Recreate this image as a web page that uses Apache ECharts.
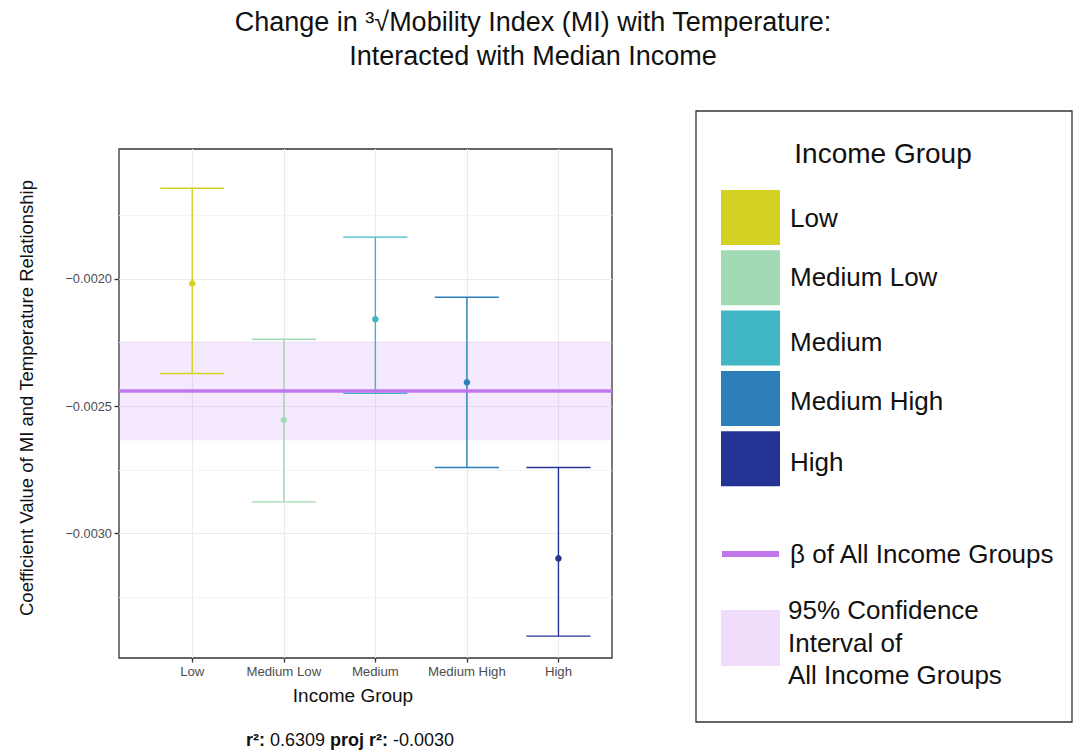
<!DOCTYPE html>
<html><head><meta charset="utf-8">
<script src="https://cdn.jsdelivr.net/npm/echarts@6/dist/echarts.min.js"></script>
<style>html,body{margin:0;padding:0;background:#fff}#c{width:1075px;height:750px}</style>
</head><body><div id="c"></div>
<script>
// ---- data ----
const categories = ['Low', 'Medium Low', 'Medium', 'Medium High', 'High'];
const estimates = [-0.002018, -0.002554, -0.002158, -0.002406, -0.003097];
const lowerCI = [-0.002371, -0.002875, -0.002449, -0.002740, -0.003402];
const upperCI = [-0.001644, -0.002237, -0.001836, -0.002072, -0.002740];
const groupColors = ['#D3D121', '#A1DAB4', '#41B6C4', '#2C7FB8', '#253494'];
const overallBeta = -0.002440;
const overallCI = [-0.002633, -0.002246];
const yTicks = [-0.0030, -0.0025, -0.0020];
const yMinorTicks = [-0.00325, -0.00275, -0.00225, -0.00175];
const yLimits = [-0.003488, -0.001490];
const xLimits = [-0.80, 4.585];
const titleLines = ['Change in \u00B3\u221AMobility Index (MI) with Temperature:', 'Interacted with Median Income'];
const legendTitle = 'Income Group';
const betaLabel = '\u03B2 of All Income Groups';
const ciLabelLines = ['95% Confidence', 'Interval of', 'All Income Groups'];
const fitStats = { r2: '0.6309', projR2: '-0.0030' };

// ---- chart ----
const FONT = '"Liberation Sans", Arial, sans-serif';
const chart = echarts.init(document.getElementById('c'), null, { renderer: 'svg' });
const capHalf = 0.35;
const catIdx = categories.map((_, i) => i);

const graphics = [];
titleLines.forEach((t, k) => graphics.push({
  type: 'text', x: 533, y: 22 + k * 34,
  style: { text: t, font: '27px ' + FONT, fill: '#111', align: 'center', verticalAlign: 'middle' }
}));
graphics.push({ type: 'text', x: 26, y: 398, rotation: Math.PI / 2,
  style: { text: 'Coefficient Value of MI and Temperature Relationship', font: '18.5px ' + FONT, fill: '#111', align: 'center', verticalAlign: 'middle' } });
graphics.push({ type: 'text', x: 353, y: 695,
  style: { text: 'Income Group', font: '19px ' + FONT, fill: '#111', align: 'center', verticalAlign: 'middle' } });
graphics.push({ type: 'text', x: 350, y: 740,
  style: { text: '{b|r\u00B2:} ' + fitStats.r2 + ' {b|proj r\u00B2:} ' + fitStats.projR2,
    font: '18px ' + FONT, fill: '#111', align: 'center', verticalAlign: 'middle',
    rich: { b: { fontWeight: 'bold', fontSize: 18, fontFamily: FONT, fill: '#111' } } } });
// legend box
graphics.push({ type: 'rect', shape: { x: 696, y: 111, width: 376, height: 611 },
  style: { fill: '#fff', stroke: '#333', lineWidth: 1.3 } });
graphics.push({ type: 'text', x: 883, y: 153,
  style: { text: legendTitle, font: '28px ' + FONT, fill: '#111', align: 'center', verticalAlign: 'middle' } });
const labelY = [218, 277, 342, 401, 462];
categories.forEach((c, i) => {
  graphics.push({ type: 'rect', shape: { x: 721, y: 190 + i * 60.3, width: 59, height: 55 }, style: { fill: groupColors[i] } });
  graphics.push({ type: 'text', x: 790, y: labelY[i],
    style: { text: c, font: '26px ' + FONT, fill: '#111', align: 'left', verticalAlign: 'middle' } });
});
graphics.push({ type: 'rect', shape: { x: 722, y: 551, width: 57, height: 6 }, style: { fill: '#C077EE' } });
graphics.push({ type: 'text', x: 790, y: 554,
  style: { text: betaLabel, font: '26px ' + FONT, fill: '#111', align: 'left', verticalAlign: 'middle' } });
graphics.push({ type: 'rect', shape: { x: 721, y: 610, width: 59, height: 56 }, style: { fill: '#EFDDFB' } });
ciLabelLines.forEach((t, k) => graphics.push({ type: 'text', x: 788, y: 610 + k * 32.5,
  style: { text: t, font: '26px ' + FONT, fill: '#111', align: 'left', verticalAlign: 'middle' } }));

const option = {
  animation: false,
  backgroundColor: '#fff',
  grid: { left: 119, top: 149, right: 1075 - 612, bottom: 750 - 658, show: true,
    borderColor: '#333', borderWidth: 1.3, backgroundColor: 'transparent' },
  xAxis: {
    type: 'value', min: xLimits[0], max: xLimits[1], position: 'bottom',
    axisLine: { show: false, onZero: false },
    axisTick: { show: true, inside: false, customValues: catIdx, length: 4.5, lineStyle: { color: '#333', width: 1.3 } },
    axisLabel: { customValues: catIdx, formatter: v => categories[Math.round(v)], margin: 7,
      fontSize: 13.2, fontFamily: FONT, color: '#4D4D4D' },
    splitLine: { show: true, lineStyle: { color: '#EBEBEB', width: 1.1 } }
  },
  yAxis: [{
    type: 'value', min: yLimits[0], max: yLimits[1], position: 'left',
    axisLine: { show: false, onZero: false },
    axisTick: { show: true, inside: false, customValues: yTicks, length: 4.5, lineStyle: { color: '#333', width: 1.3 } },
    axisLabel: { customValues: yTicks, margin: 7, fontSize: 12.8, fontFamily: FONT, color: '#4D4D4D',
      formatter: v => (v < 0 ? '\u2212' : '') + Math.abs(v).toFixed(4) },
    splitLine: { show: true, lineStyle: { color: '#EBEBEB', width: 1.1 } }
  }, {
    type: 'value', min: yLimits[0], max: yLimits[1], position: 'right',
    axisLine: { show: false, onZero: false },
    axisTick: { show: false, customValues: yMinorTicks },
    axisLabel: { show: false, customValues: yMinorTicks },
    splitLine: { show: true, lineStyle: { color: '#F2F2F2', width: 0.8 } }
  }],
  graphic: graphics,
  series: [{
    type: 'custom', z: 2,
    data: catIdx.map(i => [i, lowerCI[i], upperCI[i]]),
    encode: { x: 0, y: [1, 2] },
    renderItem: (params, api) => {
      const i = api.value(0), lo = api.value(1), hi = api.value(2);
      const st = () => ({ stroke: groupColors[i], lineWidth: 1.4, fill: null });
      const a = api.coord([i, hi]), b = api.coord([i, lo]);
      const l1 = api.coord([i - capHalf, hi]), r1 = api.coord([i + capHalf, hi]);
      const l2 = api.coord([i - capHalf, lo]), r2 = api.coord([i + capHalf, lo]);
      return { type: 'group', children: [
        { type: 'line', shape: { x1: a[0], y1: a[1], x2: b[0], y2: b[1] }, style: st() },
        { type: 'line', shape: { x1: l1[0], y1: l1[1], x2: r1[0], y2: r1[1] }, style: st() },
        { type: 'line', shape: { x1: l2[0], y1: l2[1], x2: r2[0], y2: r2[1] }, style: st() }
      ] };
    },
    markArea: { silent: true, itemStyle: { color: 'rgba(190,120,240,0.16)' },
      data: [[{ yAxis: overallCI[0] }, { yAxis: overallCI[1] }]] }
  }, {
    type: 'line', z: 3, silent: true, showSymbol: false, symbol: 'none',
    lineStyle: { color: '#C077EE', width: 3.5 },
    data: [[xLimits[0], overallBeta], [xLimits[1], overallBeta]]
  }, {
    type: 'scatter', z: 4, symbolSize: 6.5,
    itemStyle: { opacity: 1 },
    data: catIdx.map(i => ({ value: [i, estimates[i]], itemStyle: { color: groupColors[i], opacity: 1 } }))
  }]
};
chart.setOption(option);
</script></body></html>
